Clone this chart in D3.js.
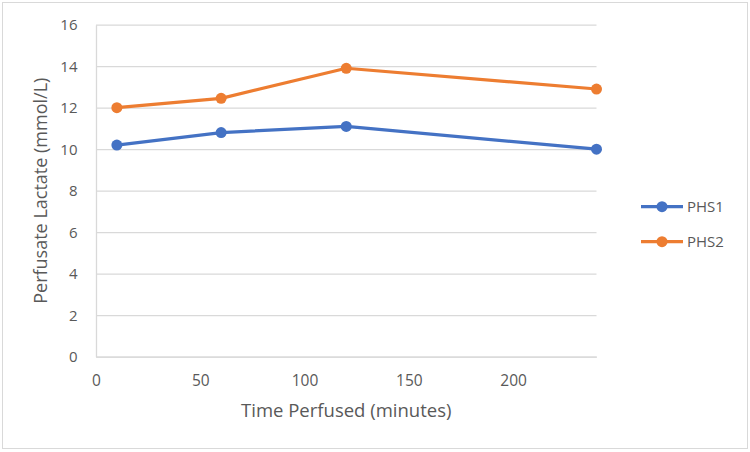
<!DOCTYPE html>
<html><head><meta charset="utf-8">
<script src="https://cdn.jsdelivr.net/npm/d3@7"></script>
<style>body{margin:0;background:#fff}svg{display:block}text{font-family:"Open Sans",sans-serif;fill:#595959}</style>
</head><body><svg id="c" width="750" height="452"></svg>
<script>
const times = [10, 60, 120, 240];
const phs1 = [10.2, 10.8, 11.1, 10.0];
const phs2 = [12.0, 12.45, 13.9, 12.9];
const seriesNames = ["PHS1", "PHS2"];
const seriesColors = ["#4472C4", "#ED7D31"];
const xTicks = [0, 50, 100, 150, 200];
const yTicks = [0, 2, 4, 6, 8, 10, 12, 14, 16];

const svg = d3.select("#c");
svg.append("rect").attr("x", 2.5).attr("y", 2.5).attr("width", 745).attr("height", 446)
  .attr("fill", "#fff").attr("stroke", "#d9d9d9");

const L = 96, R = 596.5, T = 24.7, B = 356.7;
const x = d3.scaleLinear().domain([0, 240]).range([L, R]);
const y = d3.scaleLinear().domain([0, 16]).range([B, T]);

// gridlines
const gy = svg.append("g").attr("transform", `translate(${L},0)`)
  .call(d3.axisLeft(y).tickValues(yTicks).tickSize(-(R - L)).tickFormat(""));
gy.select(".domain").remove();
gy.selectAll("line").attr("stroke", "#d9d9d9").attr("stroke-width", 1.3);

// y axis labels
const ya = svg.append("g").attr("transform", `translate(${L},0)`)
  .call(d3.axisLeft(y).tickValues(yTicks).tickSize(0).tickPadding(18.5));
ya.select(".domain").attr("stroke", "#d9d9d9").attr("stroke-width", 1.3);
ya.selectAll("text").style("font-size", "15px").attr("fill", "#595959");

// x axis
const xa = svg.append("g").attr("transform", `translate(0,${B})`)
  .call(d3.axisBottom(x).tickValues(xTicks).tickSize(0).tickPadding(18.5));
xa.select(".domain").attr("stroke", "#d9d9d9").attr("stroke-width", 1.3);
xa.selectAll("text").style("font-size", "15.5px").attr("fill", "#595959");

svg.append("text").attr("x", (L + R) / 2).attr("y", 417).attr("text-anchor", "middle")
  .style("font-size", "18.5px").text("Time Perfused (minutes)");
svg.append("text").attr("transform", `translate(46.5,${(T + B) / 2}) rotate(-90)`)
  .attr("text-anchor", "middle").style("font-size", "18px").text("Perfusate Lactate (mmol/L)");

const data = [phs1, phs2];
const line = d3.line().x((d, i) => x(times[i])).y(d => y(d));
data.forEach((vals, k) => {
  svg.append("path").datum(vals).attr("d", line).attr("fill", "none")
    .attr("stroke", seriesColors[k]).attr("stroke-width", 3.2).attr("stroke-linejoin", "round");
  svg.selectAll(null).data(vals).enter().append("circle")
    .attr("cx", (d, i) => x(times[i])).attr("cy", d => y(d)).attr("r", 5.5)
    .attr("fill", seriesColors[k]);
});

// legend
const ly = [206.7, 241.7];
seriesNames.forEach((n, k) => {
  svg.append("line").attr("x1", 641).attr("x2", 683).attr("y1", ly[k]).attr("y2", ly[k])
    .attr("stroke", seriesColors[k]).attr("stroke-width", 3.2);
  svg.append("circle").attr("cx", 662).attr("cy", ly[k]).attr("r", 5.5).attr("fill", seriesColors[k]);
  svg.append("text").attr("x", 687).attr("y", ly[k]).attr("dy", "0.36em")
    .style("font-size", "15px").text(n);
});
</script></body></html>
